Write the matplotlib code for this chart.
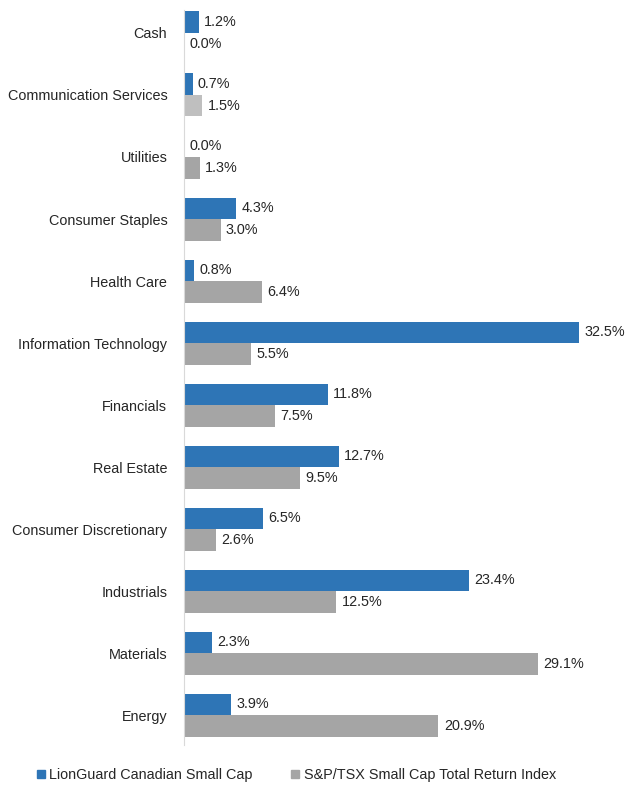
import numpy as np
import matplotlib
matplotlib.use("Agg")
import matplotlib.pyplot as plt
from matplotlib.patches import Patch

sectors = ["Cash", "Communication Services", "Utilities", "Consumer Staples",
           "Health Care", "Information Technology", "Financials", "Real Estate",
           "Consumer Discretionary", "Industrials", "Materials", "Energy"]
fund = [1.2, 0.7, 0.0, 4.3, 0.8, 32.5, 11.8, 12.7, 6.5, 23.4, 2.3, 3.9]
index = [0.0, 1.5, 1.3, 3.0, 6.4, 5.5, 7.5, 9.5, 2.6, 12.5, 29.1, 20.9]

blue = "#2E75B6"
gray = "#A5A5A5"
text_col = "#262626"

plt.rcParams['font.family'] = ['Liberation Sans', 'DejaVu Sans']

fig = plt.figure(figsize=(6.44, 7.88), dpi=100)
ax = fig.add_axes([184/644, 1 - 745/788, 438/644, 735/788])

y = np.arange(len(sectors))
h = 0.347
gray_cols = [gray] * len(sectors)
gray_cols[1] = "#BFBFBF"  # lighter gray in the source for this one bar
ax.barh(y - h/2, fund, height=h, color=blue)
ax.barh(y + h/2, index, height=h, color=gray_cols)

fs = 10.4
for i in range(len(sectors)):
    ax.text(fund[i] + 0.45, y[i] - h/2, "%.1f%%" % fund[i], va='center', ha='left',
            fontsize=fs, color=text_col)
    ax.text(index[i] + 0.45, y[i] + h/2, "%.1f%%" % index[i], va='center', ha='left',
            fontsize=fs, color=text_col)

ax.set_xlim(0, 36)
ax.set_ylim(11.48, -0.37)
ax.set_yticks(y)
ax.set_yticklabels(sectors, fontsize=fs, color=text_col)
ax.tick_params(axis='y', length=0, pad=12)
ax.set_xticks([])
for s in ['top', 'right', 'bottom']:
    ax.spines[s].set_visible(False)
ax.spines['left'].set_color('#D9D9D9')

handles = [Patch(color=blue, label="LionGuard Canadian Small Cap"),
           Patch(color=gray, label="S&P/TSX Small Cap Total Return Index")]
fig.legend(handles=handles, loc='center', bbox_to_anchor=(0.46, 1 - 775/788), ncol=2,
           frameon=False, fontsize=10.4, handlelength=0.55, handleheight=0.55,
           handletextpad=0.3, columnspacing=2.7, labelcolor=text_col)

plt.savefig("out.png", dpi=100)
